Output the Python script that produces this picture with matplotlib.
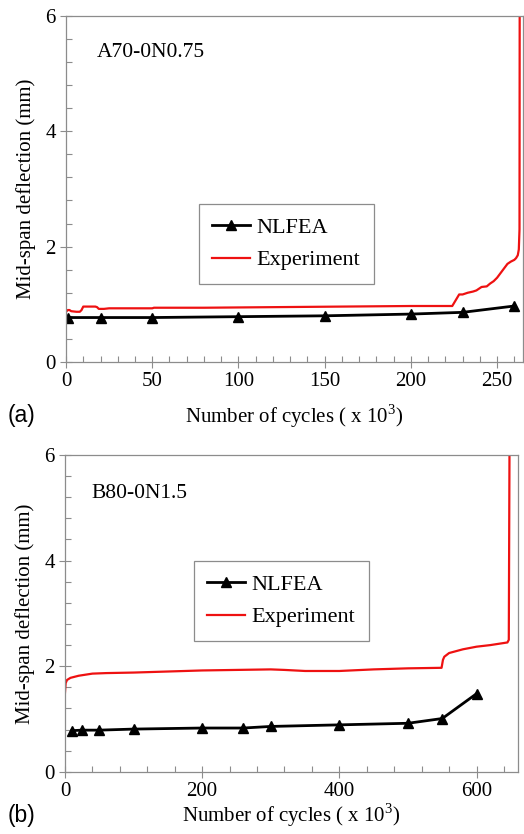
import numpy as np
import matplotlib
matplotlib.use("Agg")
import matplotlib.pyplot as plt
from matplotlib.ticker import MultipleLocator

plt.rcParams['font.family'] = ['Liberation Serif', 'DejaVu Serif']
plt.rcParams['mathtext.fontset'] = 'custom'
plt.rcParams['mathtext.rm'] = 'Liberation Serif'

# beam A70-0N0.75
a_fea_x = [1, 20, 50, 100, 150, 200, 230, 260]
a_fea_y = [0.77, 0.77, 0.77, 0.785, 0.80, 0.83, 0.86, 0.97]
a_exp_x = [0, 1, 2, 3, 6, 8, 9, 10, 14, 17, 18, 19, 22, 25, 30, 50, 51, 80, 120,
           160, 200, 224, 225, 227, 228, 230, 233, 236, 238, 241, 244, 246,
           248, 250, 252, 254, 256, 258, 260, 261, 262, 262.6, 263, 263.1]
a_exp_y = [0.87, 0.90, 0.90, 0.88, 0.87, 0.87, 0.90, 0.96, 0.96, 0.96, 0.95, 0.92,
           0.92, 0.93, 0.93, 0.93, 0.94, 0.94, 0.95, 0.96, 0.97, 0.97, 1.02,
           1.12, 1.17, 1.17, 1.20, 1.22, 1.24, 1.30, 1.31, 1.36, 1.40, 1.46,
           1.54, 1.62, 1.70, 1.74, 1.77, 1.80, 1.85, 1.95, 2.3, 6.0]

# beam B80-0N1.5
b_fea_x = [10, 25, 50, 100, 200, 260, 300, 400, 500, 550, 600]
b_fea_y = [0.78, 0.79, 0.79, 0.81, 0.83, 0.83, 0.86, 0.89, 0.92, 1.01, 1.48]
b_exp_x = [0, 1, 3, 8, 20, 40, 60, 100, 150, 200, 250, 300, 320, 350, 400,
           450, 500, 549, 551, 553, 560, 580, 600, 620, 645, 647, 648]
b_exp_y = [1.50, 1.68, 1.74, 1.78, 1.82, 1.86, 1.87, 1.88, 1.90, 1.92, 1.93,
           1.94, 1.93, 1.91, 1.91, 1.94, 1.96, 1.97, 2.12, 2.18, 2.25, 2.32,
           2.37, 2.40, 2.45, 2.5, 6.0]

panels = [
    dict(fea=(a_fea_x, a_fea_y), exp=(a_exp_x, a_exp_y), name='A70-0N0.75',
         tag='(a)', xlim=265, major=50, minor=10,
         rect=[0.126, 0.566, 0.872, 0.415], leg=(0.291, 0.457),
         name_pos=(0.068, 0.88), tag_y=0.494, xpad=8),
    dict(fea=(b_fea_x, b_fea_y), exp=(b_exp_x, b_exp_y), name='B80-0N1.5',
         tag='(b)', xlim=660, major=200, minor=40,
         rect=[0.124, 0.0745, 0.864, 0.38], leg=(0.285, 0.666),
         name_pos=(0.059, 0.865), tag_y=0.014, xpad=0),
]

fig = plt.figure(figsize=(5.24, 8.34), dpi=100)
grey = '#8c8c8c'

for p in panels:
    ax = fig.add_axes(p['rect'])
    ax.plot(*p['fea'], color='black', lw=2, marker='^', markersize=7.5,
            label='NLFEA')
    ax.plot(*p['exp'], color='#ee1111', lw=1.6, label='Experiment')

    ax.set_xlim(0, p['xlim'])
    ax.set_ylim(0, 6)
    ax.xaxis.set_major_locator(MultipleLocator(p['major']))
    ax.xaxis.set_minor_locator(MultipleLocator(p['minor']))
    ax.yaxis.set_major_locator(MultipleLocator(2))
    ax.yaxis.set_minor_locator(MultipleLocator(0.4))
    ax.tick_params(which='major', direction='inout', length=8.5, width=0.8,
                   color=grey, labelsize=15, pad=3)
    ax.tick_params(which='minor', direction='in', length=4, width=0.8,
                   color=grey)
    for s in ax.spines.values():
        s.set_color(grey)
        s.set_linewidth(0.9)

    ax.set_xlabel('Number of cycles ( x 10$^3$)', fontsize=15,
                  labelpad=p['xpad'])
    ax.set_ylabel('Mid-span deflection (mm)', fontsize=15, labelpad=7)
    ax.text(*p['name_pos'], p['name'], transform=ax.transAxes, fontsize=15.5)
    fig.text(0.015, p['tag_y'], p['tag'], fontsize=16.5,
             family=['Liberation Sans', 'DejaVu Sans'])

    leg = ax.legend(loc='upper left', bbox_to_anchor=p['leg'],
                    borderaxespad=0, fontsize=16, fancybox=False,
                    handlelength=1.7, handletextpad=0.3, labelspacing=0.55,
                    borderpad=0.6, framealpha=1)
    leg.get_frame().set_edgecolor(grey)
    leg.get_frame().set_linewidth(0.9)

fig.savefig('out.png', dpi=100)
